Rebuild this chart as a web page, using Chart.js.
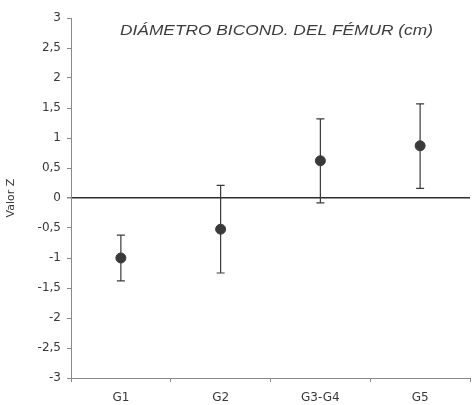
<!DOCTYPE html>
<html>
<head>
<meta charset="utf-8">
<script src="https://cdn.jsdelivr.net/npm/chart.js@4"></script>
<style>
  html, body { margin: 0; padding: 0; background: #fff; }
  #wrap { width: 476px; height: 405px; }
</style>
</head>
<body>
<div id="wrap"><canvas id="c"></canvas></div>
<script>
// Z-scores by group, with lower / upper ends of the error bars
const groups = ['G1', 'G2', 'G3-G4', 'G5'];
const zMean = [-1.0, -0.52, 0.62, 0.87];
const zLow = [-1.38, -1.25, -0.08, 0.16];
const zHigh = [-0.62, 0.21, 1.32, 1.57];
const yTicks = [-3, -2.5, -2, -1.5, -1, -0.5, 0, 0.5, 1, 1.5, 2, 2.5, 3];
const chartTitle = 'DIÁMETRO BICOND. DEL FÉMUR (cm)';

const INK = '#3a3a3a';
const TEXT = '#383838';
const AXIS = '#8a8a8a';
const FONT = "'DejaVu Sans', Verdana, sans-serif";
const TITLE_FONT = "'Liberation Sans', Arial, sans-serif";

// vertical whiskers with caps, positioned via the chart scales
const errorBars = {
    id: 'errorBars',
    afterDatasetsDraw(chart) {
        const { ctx, scales: { x, y } } = chart;
        ctx.save();
        ctx.strokeStyle = INK;
        ctx.lineWidth = 1.2;
        groups.forEach((g, i) => {
            const px = x.getPixelForValue(i);
            const top = y.getPixelForValue(zHigh[i]);
            const bot = y.getPixelForValue(zLow[i]);
            ctx.beginPath();
            ctx.moveTo(px, top); ctx.lineTo(px, bot);
            ctx.moveTo(px - 4, top); ctx.lineTo(px + 4, top);
            ctx.moveTo(px - 4, bot); ctx.lineTo(px + 4, bot);
            ctx.stroke();
        });
        ctx.restore();
    }
};

// title sits inside the plot area, stretched a little to span 120..433
const innerTitle = {
    id: 'innerTitle',
    afterDraw(chart) {
        const { ctx, chartArea } = chart;
        ctx.save();
        ctx.fillStyle = '#3c3c3c';
        ctx.font = 'italic 15px ' + TITLE_FONT;
        ctx.textAlign = 'left';
        ctx.textBaseline = 'middle';
        const w = ctx.measureText(chartTitle).width;
        ctx.translate(120, chartArea.top + 13);
        ctx.scale(313 / w, 1);
        ctx.fillText(chartTitle, 0, 0);
        ctx.restore();
    }
};

new Chart(document.getElementById('c'), {
    type: 'line',
    data: {
        labels: groups,
        datasets: [{
            data: zMean,
            showLine: false,
            pointRadius: 5,
            pointBackgroundColor: INK,
            pointBorderColor: INK,
            pointBorderWidth: 1
        }]
    },
    options: {
        responsive: true,
        maintainAspectRatio: false,
        animation: false,
        layout: { padding: { top: 18, right: 1, left: 0, bottom: 0 } },
        plugins: { legend: { display: false }, tooltip: { enabled: false } },
        scales: {
            x: {
                offset: true,
                afterFit: s => { s.height = 27; },
                border: { color: AXIS, width: 1 },
                grid: { offset: true, drawOnChartArea: false, tickLength: 4, tickColor: AXIS },
                ticks: { color: TEXT, font: { family: FONT, size: 12 }, padding: 9 }
            },
            y: {
                min: -3,
                max: 3,
                afterFit: s => { s.width = 71; },
                afterBuildTicks: s => { s.ticks = yTicks.map(v => ({ value: v })); },
                border: { color: AXIS, width: 1 },
                grid: {
                    color: c => (c.tick && c.tick.value === 0 ? '#2e2e2e' : 'rgba(0,0,0,0)'),
                    lineWidth: c => (c.tick && c.tick.value === 0 ? 1.5 : 1),
                    tickColor: AXIS,
                    tickLength: 4
                },
                ticks: {
                    color: TEXT,
                    font: { family: FONT, size: 12 },
                    padding: 6,
                    callback: v => String(v).replace('.', ',')
                },
                title: {
                    display: true,
                    text: 'Valor Z',
                    color: TEXT,
                    font: { family: FONT, size: 11 },
                    padding: { top: 5, bottom: 0 }
                }
            }
        }
    },
    plugins: [errorBars, innerTitle]
});
</script>
</body>
</html>
